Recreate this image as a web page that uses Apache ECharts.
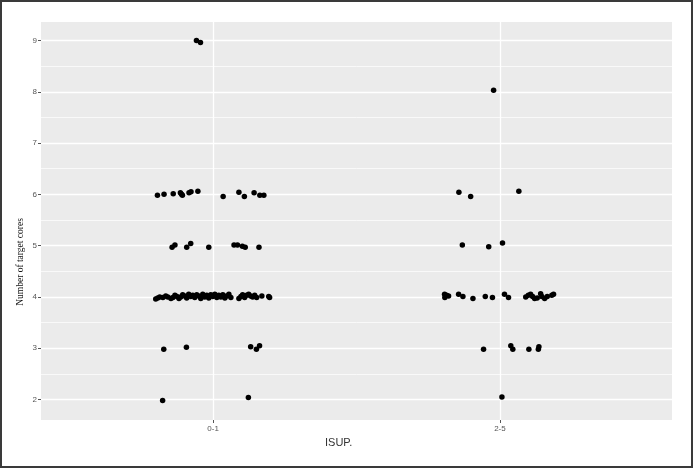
<!DOCTYPE html>
<html>
<head>
<meta charset="utf-8">
<script src="https://cdn.jsdelivr.net/npm/echarts@6/dist/echarts.min.js"></script>
<style>
  html, body { margin: 0; padding: 0; background: #fff; }
  #chart {
    width: 693px;
    height: 468px;
    box-sizing: border-box;
    border: 2px solid #3a3a3a;
  }
</style>
</head>
<body>
<div id="chart"></div>
<script>
// ISUP groups, placed at x = 1 and x = 2 (points are jittered around them)
const groupNames = ['0-1', '2-5']
const groupPositions = [1, 2]
const yTicks = [2, 3, 4, 5, 6, 7, 8, 9]
const yMinorLines = [2.5, 3.5, 4.5, 5.5, 6.5, 7.5, 8.5]

// jittered points: [x, number of target cores]
const isup01 = [
  [0.942, 9.00], [0.956, 8.96],
  [0.806, 5.98], [0.829, 6.00], [0.861, 6.01], [0.886, 6.03], [0.893, 5.98],
  [0.890, 6.00], [0.916, 6.03], [0.923, 6.05], [0.947, 6.06], [1.035, 5.96],
  [1.090, 6.04], [1.109, 5.96], [1.143, 6.03], [1.163, 5.98], [1.177, 5.98],
  [0.857, 4.97], [0.867, 5.01], [0.908, 4.97], [0.922, 5.04], [0.985, 4.97],
  [1.073, 5.01], [1.085, 5.01], [1.102, 4.99], [1.112, 4.97], [1.160, 4.97],
  [0.800, 3.96], [0.807, 3.98], [0.814, 4.00], [0.825, 3.99], [0.835, 4.02],
  [0.842, 4.00], [0.853, 3.97], [0.860, 3.99], [0.867, 4.03], [0.874, 4.01],
  [0.881, 3.97], [0.887, 4.00], [0.894, 4.04], [0.901, 4.02], [0.908, 3.98],
  [0.915, 4.05], [0.922, 4.01], [0.929, 4.03], [0.936, 3.99], [0.943, 4.04],
  [0.950, 4.02], [0.957, 3.97], [0.964, 4.05], [0.971, 4.00], [0.978, 4.03],
  [0.985, 3.98], [0.992, 4.04], [0.999, 4.01], [1.006, 4.05], [1.013, 3.99],
  [1.020, 4.03], [1.027, 4.00], [1.034, 4.04], [1.041, 3.98], [1.048, 4.02],
  [1.055, 4.05], [1.062, 3.99], [1.090, 3.97], [1.097, 4.01], [1.103, 4.04],
  [1.110, 3.99], [1.117, 4.03], [1.124, 4.05], [1.131, 4.02], [1.138, 4.00],
  [1.145, 4.03], [1.152, 3.99], [1.170, 4.02], [1.194, 4.01], [1.197, 3.99],
  [0.828, 2.98], [0.907, 3.02], [1.131, 3.03], [1.151, 2.98], [1.162, 3.05],
  [0.824, 1.98], [1.123, 2.04]
]
const isup25 = [
  [1.978, 8.03],
  [1.857, 6.04], [1.898, 5.96], [2.066, 6.06],
  [1.869, 5.01], [1.961, 4.98], [2.009, 5.05],
  [1.807, 4.05], [1.814, 4.03], [1.808, 3.99], [1.821, 4.02], [1.856, 4.05],
  [1.871, 4.01], [1.906, 3.97], [1.949, 4.01], [1.974, 3.99], [2.016, 4.05],
  [2.030, 3.99], [2.090, 4.00], [2.099, 4.03], [2.107, 4.05], [2.114, 4.01],
  [2.121, 3.97], [2.130, 3.98], [2.142, 4.06], [2.146, 4.01], [2.156, 3.97],
  [2.165, 4.01], [2.181, 4.03], [2.187, 4.05],
  [1.943, 2.98], [2.038, 3.05], [2.045, 2.98], [2.101, 2.98], [2.134, 2.98],
  [2.136, 3.03],
  [2.007, 2.05]
]

const chart = echarts.init(document.getElementById('chart'))

// ggplot-like white grid lines, drawn as mark lines under the points
const gridLines = []
yTicks.forEach(v => gridLines.push({ yAxis: v, lineStyle: { width: 1.3 } }))
yMinorLines.forEach(v => gridLines.push({ yAxis: v, lineStyle: { width: 0.7 } }))
groupPositions.forEach(v => gridLines.push({ xAxis: v, lineStyle: { width: 1.3 } }))

const option = {
  animation: false,
  grid: {
    left: 39,
    top: 20,
    right: 19,
    bottom: 46,
    show: true,
    backgroundColor: '#ebebeb',
    borderWidth: 0
  },
  xAxis: {
    type: 'value',
    min: 0.4,
    max: 2.6,
    axisLine: { show: false },
    splitLine: { show: false },
    axisTick: {
      customValues: groupPositions,
      length: 3,
      lineStyle: { color: '#555' }
    },
    axisLabel: {
      customValues: groupPositions,
      margin: 5,
      color: '#555',
      fontSize: 8,
      fontFamily: 'Liberation Sans',
      formatter: v => groupNames[groupPositions.indexOf(v)] || ''
    }
  },
  yAxis: {
    type: 'value',
    min: 1.6,
    max: 9.36,
    axisLine: { show: false },
    splitLine: { show: false },
    axisTick: {
      customValues: yTicks,
      length: 3,
      lineStyle: { color: '#555' }
    },
    axisLabel: {
      customValues: yTicks,
      margin: 4,
      color: '#555',
      fontSize: 8,
      fontFamily: 'Liberation Sans'
    }
  },
  graphic: [
    {
      type: 'text',
      x: 18,
      y: 260,
      rotation: Math.PI / 2,
      style: {
        text: 'Number of target cores',
        fill: '#111',
        font: '9.5px "Liberation Serif"',
        align: 'center',
        verticalAlign: 'middle'
      }
    },
    {
      type: 'text',
      x: 323,
      y: 441,
      style: {
        text: 'ISUP.',
        fill: '#333',
        font: '11px "Liberation Sans"',
        verticalAlign: 'middle'
      }
    }
  ],
  series: [
    {
      type: 'scatter',
      data: [],
      z: 0,
      silent: true,
      markLine: {
        z: 0,
        silent: true,
        symbol: 'none',
        label: { show: false },
        lineStyle: { color: '#ffffff', type: 'solid' },
        data: gridLines
      }
    },
    {
      name: '0-1',
      type: 'scatter',
      z: 4,
      symbol: 'circle',
      symbolSize: 5.5,
      itemStyle: { color: '#000', opacity: 1 },
      data: isup01
    },
    {
      name: '2-5',
      type: 'scatter',
      z: 4,
      symbol: 'circle',
      symbolSize: 5.5,
      itemStyle: { color: '#000', opacity: 1 },
      data: isup25
    }
  ]
}
chart.setOption(option)
</script>
</body>
</html>
